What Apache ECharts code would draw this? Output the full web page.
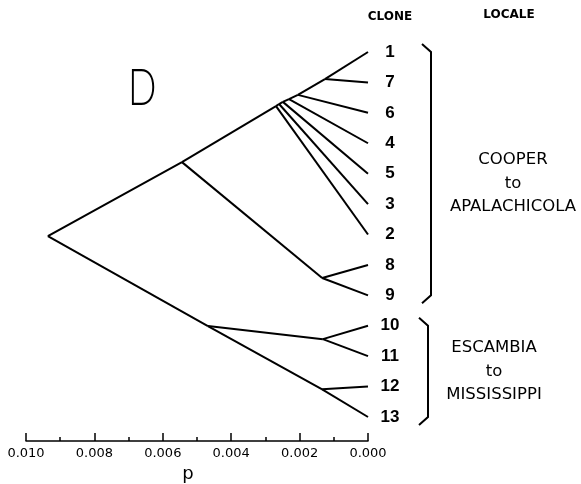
<!DOCTYPE html>
<html>
<head>
<meta charset="utf-8">
<script src="https://cdn.jsdelivr.net/npm/echarts@6/dist/echarts.min.js"></script>
<style>
html,body{margin:0;padding:0;background:#fff;}
#c{width:581px;height:484px;}
</style>
</head>
<body>
<div id="c"></div>
<script>
// Leaf clones, top to bottom (row index = position in this list)
const leaves = ['1','7','6','4','5','3','2','8','9','10','11','12','13'];
// Internal nodes: distance p and vertical row position
const nodeNames = ['root','A','n2','n3','n5','n4','n6','n7','n89','L','n1011','n1213'];
const nodeP = [0.00936,0.00544,0.00269,0.00260,0.00249,0.00231,0.00205,0.00126,0.00134,0.00468,0.00132,0.00134];
const nodeRow = [6.05,3.62,1.78,1.71,1.64,1.55,1.41,0.89,7.43,9.01,9.44,11.09];
// Edges parent -> child
const edgeFrom = ['root','root','A','A','n2','n2','n3','n3','n5','n5','n4','n4','n6','n6','n7','n7','n89','n89','L','L','n1011','n1011','n1213','n1213'];
const edgeTo   = ['A','L','n2','n89','2','n3','3','n5','5','n4','4','n6','6','n7','7','1','8','9','n1011','n1213','10','11','12','13'];
// Axis ticks
const xTicks = [0.010,0.008,0.006,0.004,0.002,0.000];
// Locale groups: [first row, last row, text lines]
const localeFirst = [0, 9];
const localeLast = [8, 12];
const localeText = [['COOPER','to','APALACHICOLA'], ['ESCAMBIA','to','MISSISSIPPI']];

function pos(id){
  const li = leaves.indexOf(id);
  if (li >= 0) return [0, li];
  const ni = nodeNames.indexOf(id);
  return [nodeP[ni], nodeRow[ni]];
}
const edgeData = edgeFrom.map((f,i)=>({coords:[pos(f), pos(edgeTo[i])]}));

const chart = echarts.init(document.getElementById('c'), null, {renderer:'canvas'});
chart.setOption({
  animation:false,
  backgroundColor:'#fff',
  grid:{left:26, right:213, top:52, bottom:67, containLabel:false, outerBoundsMode:'none'},
  xAxis:{
    type:'value', min:0, max:0.010, interval:0.002, inverse:true, offset:24,
    axisLine:{show:true, onZero:false, lineStyle:{color:'#000', width:1.5}},
    axisTick:{show:true, inside:true, length:8, lineStyle:{color:'#000', width:1.5}},
    minorTick:{show:true, splitNumber:2, length:4, lineStyle:{color:'#000', width:1.5}},
    splitLine:{show:false},
    axisLabel:{formatter:v=>v.toFixed(3), color:'#000', fontSize:13, fontFamily:'DejaVu Sans', margin:6},
    name:'p', nameLocation:'middle', nameGap:24,
    nameTextStyle:{color:'#000', fontSize:18, fontFamily:'DejaVu Sans', padding:[0,18,0,0]}
  },
  yAxis:{
    type:'value', min:0, max:12, interval:1, inverse:true, position:'right',
    axisLine:{show:false}, axisTick:{show:false}, splitLine:{show:false},
    axisLabel:{formatter:v=>leaves[v]||'', align:'center', margin:22, color:'#000', fontSize:17, fontWeight:'bold', fontFamily:'Liberation Sans'}
  },
  series:[{
    type:'lines', coordinateSystem:'cartesian2d', silent:true,
    lineStyle:{color:'#000', width:2, opacity:1},
    data:edgeData
  }]
});

// Annotations: panel letter, headers, brackets, locale labels
const g = [];
g.push({type:'text', left:128, top:62, style:{text:'D', font:'300 52px Lato', fill:'#000'}, scaleX:0.72});
g.push({type:'text', x:390, y:17, style:{text:'CLONE', font:'bold 12px "DejaVu Sans"', fill:'#000', textAlign:'center', textVerticalAlign:'middle'}});
g.push({type:'text', x:509, y:15, style:{text:'LOCALE', font:'bold 12px "DejaVu Sans"', fill:'#000', textAlign:'center', textVerticalAlign:'middle'}});
const bx = [431, 428], tx = [513, 494];
for (let k=0;k<2;k++){
  const yTop = chart.convertToPixel({gridIndex:0}, [0, localeFirst[k]])[1];
  const yBot = chart.convertToPixel({gridIndex:0}, [0, localeLast[k]])[1];
  g.push({type:'polyline', shape:{points:[[bx[k]-9,yTop-8],[bx[k],yTop],[bx[k],yBot],[bx[k]-9,yBot+8]]}, style:{stroke:'#000', lineWidth:2, fill:null}});
  const mid = (yTop+yBot)/2 + (k===0?10:0);
  localeText[k].forEach((t,j)=>{
    g.push({type:'text', x:tx[k], y:mid+(j-1)*23.5, style:{text:t, font:'16.5px "DejaVu Sans"', fill:'#000', textAlign:'center', textVerticalAlign:'middle'}});
  });
}
chart.setOption({graphic:g});
</script>
</body>
</html>
